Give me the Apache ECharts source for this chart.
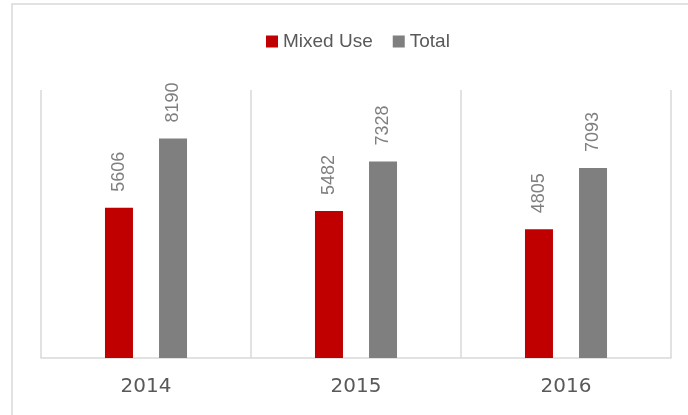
<!DOCTYPE html>
<html>
<head>
<meta charset="utf-8">
<script src="https://cdn.jsdelivr.net/npm/echarts@6/dist/echarts.min.js"></script>
<style>
  html, body { margin: 0; padding: 0; background: #fff; }
  #main { width: 688px; height: 415px; }
</style>
</head>
<body>
<div id="main"></div>
<script>
var chartDom = document.getElementById('main');
var myChart = echarts.init(chartDom);

const years = ['2014', '2015', '2016'];
const mixedUse = [5606, 5482, 4805];
const total = [8190, 7328, 7093];

const fontFamily = '"Liberation Sans", Arial, sans-serif';

// rotated value labels above each bar
const barLabel = {
  show: true,
  position: 'top',
  rotate: 90,
  align: 'left',
  verticalAlign: 'middle',
  distance: 16,
  color: '#7f7f7f',
  fontSize: 18,
  fontFamily: fontFamily,
};

var option = {
  animation: false,
  backgroundColor: '#fff',
  graphic: [
    {
      type: 'rect',
      shape: { x: 12, y: 4, width: 700, height: 500 },
      style: { fill: 'none', stroke: '#d9d9d9', lineWidth: 1.5 },
      silent: true,
    },
  ],
  legend: {
    top: 27,
    left: 261,
    itemWidth: 12,
    itemHeight: 12,
    itemGap: 20,
    icon: 'rect',
    textStyle: { color: '#595959', fontSize: 19, fontFamily: fontFamily },
    data: ['Mixed Use', 'Total'],
  },
  grid: {
    left: 41,
    right: 17,
    top: 90,
    bottom: 57,
  },
  xAxis: {
    type: 'category',
    data: years,
    axisLine: { lineStyle: { color: '#d9d9d9', width: 1.5 } },
    axisTick: { show: false },
    splitLine: { show: true, lineStyle: { color: '#d9d9d9', width: 1.5 } },
    axisLabel: {
      margin: 19,
      color: '#595959',
      fontSize: 20,
      fontFamily: '"DejaVu Sans", sans-serif',
    },
  },
  yAxis: {
    type: 'value',
    min: 0,
    max: 10000,
    show: false,
    splitLine: { show: false },
  },
  series: [
    {
      name: 'Mixed Use',
      type: 'bar',
      data: mixedUse,
      barWidth: 28,
      barGap: '93%',
      itemStyle: { color: '#c00000' },
      label: barLabel,
    },
    {
      name: 'Total',
      type: 'bar',
      data: total,
      barWidth: 28,
      itemStyle: { color: '#7f7f7f' },
      label: barLabel,
    },
  ],
};

option && myChart.setOption(option);
</script>
</body>
</html>
